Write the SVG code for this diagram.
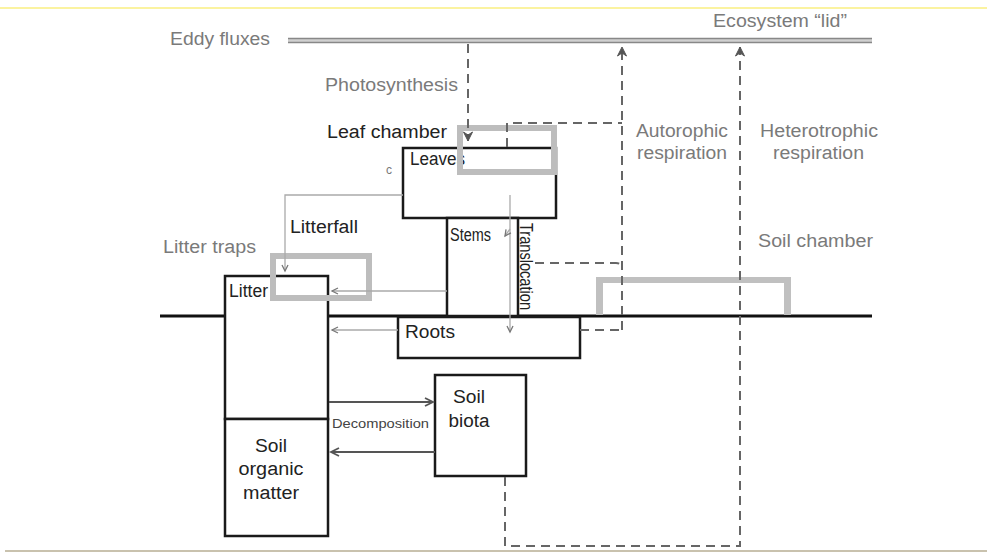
<svg xmlns="http://www.w3.org/2000/svg" width="987" height="553" viewBox="0 0 987 553">
<style>
text{font-family:"Liberation Sans",Arial,sans-serif}
.g{fill:#7a7a7a;font-size:18px}
.k{fill:#222;font-size:18px}
.box{fill:#fff;stroke:#1a1a1a;stroke-width:2.5}
.dash{fill:none;stroke:#666;stroke-width:2;stroke-dasharray:9 6}
.thin{fill:none;stroke:#aaa;stroke-width:1.3}
.cham{fill:none;stroke:#bdbdbd;stroke-width:6}
.dk{fill:none;stroke:#555;stroke-width:2}
</style>
<defs>
<marker id="aThin" markerWidth="10" markerHeight="10" refX="7" refY="4" orient="auto" markerUnits="userSpaceOnUse">
<path d="M1,1 L7,4 L1,7" fill="none" stroke="#777" stroke-width="1.3"/>
</marker>
<marker id="aDk" markerWidth="12" markerHeight="12" refX="9" refY="5" orient="auto" markerUnits="userSpaceOnUse">
<path d="M1,1 L9,5 L1,9" fill="none" stroke="#555" stroke-width="1.8"/>
</marker>
<marker id="aDash" markerWidth="14" markerHeight="14" refX="10" refY="6" orient="auto" markerUnits="userSpaceOnUse">
<path d="M1,1.5 L10,6 L1,10.5 L4,6 Z" fill="#555" stroke="#555" stroke-width="1"/>
</marker>
</defs>
<rect width="987" height="553" fill="#fff"/>
<line x1="0" y1="8" x2="987" y2="8" stroke="#fbf3a0" stroke-width="2"/>
<line x1="5" y1="551" x2="987" y2="551" stroke="#c9c2ae" stroke-width="2"/>

<g id="lid">
<rect x="288" y="38" width="584" height="5" fill="#d0d0d0"/>
<line x1="288" y1="38.5" x2="872" y2="38.5" stroke="#888" stroke-width="1.3"/>
<line x1="288" y1="42.5" x2="872" y2="42.5" stroke="#888" stroke-width="1.3"/>
<text x="170" y="45" class="g" textLength="100" lengthAdjust="spacingAndGlyphs">Eddy fluxes</text>
<text x="713" y="27" class="g" textLength="134" lengthAdjust="spacingAndGlyphs">Ecosystem “lid”</text>
</g>

<g id="ground">
<line x1="160" y1="316" x2="872" y2="316" stroke="#111" stroke-width="3"/>
</g>

<g id="labels">
<text x="325" y="91" class="g" textLength="133" lengthAdjust="spacingAndGlyphs">Photosynthesis</text>
<text x="636" y="137" class="g" textLength="92" lengthAdjust="spacingAndGlyphs">Autorophic</text>
<text x="637" y="159" class="g" textLength="90" lengthAdjust="spacingAndGlyphs">respiration</text>
<text x="760" y="137" class="g" textLength="118" lengthAdjust="spacingAndGlyphs">Heterotrophic</text>
<text x="773" y="159" class="g" textLength="91" lengthAdjust="spacingAndGlyphs">respiration</text>
<text x="758" y="247" class="g" textLength="115" lengthAdjust="spacingAndGlyphs">Soil chamber</text>
<text x="163" y="253" class="g" textLength="93" lengthAdjust="spacingAndGlyphs">Litter traps</text>
<text x="327" y="138" class="k" textLength="120" lengthAdjust="spacingAndGlyphs">Leaf chamber</text>
<text x="290" y="233" class="k" textLength="68" lengthAdjust="spacingAndGlyphs">Litterfall</text>
<text x="386" y="174" fill="#777" font-size="12">c</text>
</g>

<g id="soil-chamber">
<rect x="596" y="277" width="195" height="6" fill="#c0c0c0"/>
<rect x="596" y="283" width="7" height="32" fill="#c0c0c0"/>
<rect x="784" y="283" width="7" height="32" fill="#c0c0c0"/>
</g>

<g id="leaves">
<rect x="403" y="148" width="153" height="70" class="box"/>
<text x="410" y="165" class="k" font-size="16" textLength="55" lengthAdjust="spacingAndGlyphs">Leaves</text>
</g>

<g id="stems">
<rect x="447" y="218" width="71" height="98" class="box"/>
<text x="450" y="241" class="k" font-size="12" textLength="41" lengthAdjust="spacingAndGlyphs">Stems</text>
<text x="520" y="223" class="k" font-size="13" transform="rotate(90 520 223)" textLength="87" lengthAdjust="spacingAndGlyphs">Translocation</text>
</g>

<g id="roots">
<rect x="398" y="317" width="182" height="41" class="box"/>
<text x="405" y="338" class="k" textLength="50" lengthAdjust="spacingAndGlyphs">Roots</text>
</g>

<g id="litter">
<rect x="225" y="276" width="103" height="143" class="box"/>
<text x="229" y="297" class="k" font-size="15" textLength="39" lengthAdjust="spacingAndGlyphs">Litter</text>
</g>

<g id="som">
<rect x="225" y="419" width="103" height="117" class="box"/>
<text x="271" y="452" class="k" text-anchor="middle" textLength="32" lengthAdjust="spacingAndGlyphs">Soil</text>
<text x="271" y="475" class="k" text-anchor="middle" textLength="65" lengthAdjust="spacingAndGlyphs">organic</text>
<text x="271" y="499" class="k" text-anchor="middle" textLength="56" lengthAdjust="spacingAndGlyphs">matter</text>
</g>

<g id="soil-biota">
<rect x="435" y="375" width="91" height="101" class="box"/>
<text x="469" y="403" class="k" text-anchor="middle" textLength="32" lengthAdjust="spacingAndGlyphs">Soil</text>
<text x="469" y="427" class="k" text-anchor="middle" textLength="41" lengthAdjust="spacingAndGlyphs">biota</text>
</g>

<g id="leaf-chamber">
<rect x="460" y="128" width="94" height="44" class="cham"/>
</g>

<g id="litter-trap">
<rect x="273" y="256" width="96" height="42" class="cham"/>
</g>

<g id="connectors">
<path d="M468,44 V141" class="dash" marker-end="url(#aDash)"/>
<path d="M507,147 V123 H622" class="dash"/>
<path d="M622,330 V47" class="dash" marker-end="url(#aDash)"/>
<path d="M535,263 H616 Q622,263 622,269" class="dash"/>
<path d="M580,330 H622" class="dash"/>
<path d="M505,477 V546 H740 V47" class="dash" marker-end="url(#aDash)"/>
<path d="M403,195 H285 V271" class="thin" marker-end="url(#aThin)"/>
<path d="M510,195 V332" class="thin" marker-end="url(#aThin)"/>
<path d="M510,229 L505,236" class="thin" marker-end="url(#aThin)"/>
<path d="M447,291 H332" class="thin" marker-end="url(#aThin)"/>
<path d="M398,330 H332" class="thin" marker-end="url(#aThin)"/>
<path d="M329,402 H433" class="dk" marker-end="url(#aDk)"/>
<path d="M435,452 H331" class="dk" marker-end="url(#aDk)"/>
<text x="332" y="428" fill="#444" font-size="13" textLength="97" lengthAdjust="spacingAndGlyphs">Decomposition</text>
</g>
</svg>
